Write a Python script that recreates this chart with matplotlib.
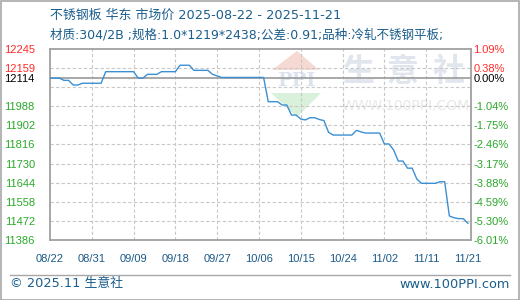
import matplotlib
matplotlib.use('Agg')
import matplotlib.pyplot as plt
from matplotlib.patches import Polygon, Rectangle
from matplotlib.lines import Line2D

plt.rcParams['font.family'] = ['DejaVu Sans', 'Noto Sans CJK SC']

# chart data (x = position of the day in the daily series, 08/22 = 0)
day_idx = [0, 2, 3, 4, 5, 6, 7, 11, 12, 18, 19, 20, 21, 23, 24, 27, 28, 30, 31, 34,
           35, 37, 46, 47, 49, 50, 51, 52, 53, 54, 55, 56, 57, 58, 59, 60, 61, 65,
           66, 67, 68, 71, 72, 73, 74, 75, 76, 77, 78, 79, 80, 83, 84, 85, 86, 87,
           88, 89, 90]
price = [12114, 12114, 12104, 12104, 12083, 12083, 12091, 12091, 12143, 12143,
         12114, 12114, 12131, 12131, 12143, 12143, 12172, 12172, 12149, 12149,
         12131, 12117, 12117, 12008, 12008, 11993, 11993, 11948, 11948, 11930,
         11926, 11936, 11936, 11928, 11923, 11870, 11858, 11858, 11879, 11872,
         11867, 11867, 11818, 11818, 11791, 11741, 11741, 11709, 11709, 11660,
         11641, 11641, 11648, 11648, 11494, 11486, 11482, 11482, 11461]

base_price = 12114
x_tick_pos = [0, 9, 18, 27, 36, 45, 54, 63, 72, 81, 90]
x_tick_labels = ['08/22', '08/31', '09/09', '09/18', '09/27', '10/06',
                 '10/15', '10/24', '11/02', '11/11', '11/21']
y_ticks = [12245, 12159, 12114, 11988, 11902, 11816, 11730, 11644, 11558, 11472, 11386]
y_grid = [12159, 12073, 11988, 11902, 11816, 11730, 11644, 11558, 11472]
pct_labels = ['1.09%', '0.38%', '0.00%', '-1.04%', '-1.75%', '-2.46%', '-3.17%',
              '-3.88%', '-4.59%', '-5.30%', '-6.01%']

title = '不锈钢板 华东 市场价 2025-08-22 - 2025-11-21'
subtitle = '材质:304/2B ;规格:1.0*1219*2438;公差:0.91;品种:冷轧不锈钢平板;'

W, H = 520, 300
fig = plt.figure(figsize=(W / 100, H / 100), dpi=100)

def px(x, y):
    return x / W, 1 - y / H

ax = fig.add_axes([50 / W, 60 / H, 420.7 / W, 191 / H])
ax.patch.set_visible(False)

# watermark
wm = dict(transform=fig.transFigure, zorder=-1)
fig.patches.append(Polygon([px(272, 70), px(297, 51), px(319, 70)], closed=True,
                           fc='#f7d9d3', ec='none', **wm))
fig.patches.append(Polygon([px(271, 93), px(321, 93), px(297, 117)], closed=True,
                           fc='#d9f0da', ec='none', **wm))
fig.text(*px(296, 81), 'PPI', color='#dce2ee', fontsize=14, family='DejaVu Serif',
         fontweight='bold', ha='center', va='center', **wm)
for ch, cx in zip('生意社', [358, 403, 449]):
    fig.text(*px(cx, 72), ch, color='#e0e5ee', fontsize=23, fontweight='bold',
             family='Noto Sans CJK SC', ha='center', va='center', **wm)
fig.text(*px(406, 106), 'WWW.100PPI.COM', color='#e8e8e8', fontsize=10,
         ha='center', va='center', **wm)

# grid
for g in y_grid:
    ax.axhline(g, color='#c8c8c8', lw=0.8, ls=(0, (3, 2)), zorder=1)
for t in x_tick_pos[1:-1]:
    ax.axvline(t, color='#c8c8c8', lw=0.8, ls=(0, (3, 2)), zorder=1)
ax.axhline(base_price, color='#9a9a9a', lw=1.2, zorder=2)

ax.plot(day_idx, price, color='#3b8fd3', lw=1.0, zorder=3)

tick_font = dict(family='Liberation Sans', fontsize=8)
ax.set_xlim(0, 90.6)
ax.set_ylim(11386, 12245)
ax.set_xticks(x_tick_pos)
ax.set_xticklabels(x_tick_labels, color='#1b5a88', **tick_font)
ax.set_yticks(y_ticks)
ax.set_yticklabels([str(v) for v in y_ticks], **tick_font)
ax.tick_params(length=0)
ax.tick_params(axis='x', pad=10)
ax.tick_params(axis='y', pad=11)
for s in ax.spines.values():
    s.set_color('#a0a0a0')
    s.set_linewidth(1.3)

ax2 = ax.twinx()
ax2.set_ylim(11386, 12245)
ax2.set_yticks(y_ticks)
ax2.set_yticklabels(pct_labels, **tick_font)
ax2.tick_params(length=0, pad=2)
for s in ax2.spines.values():
    s.set_visible(False)

def lab_color(v):
    if v > base_price:
        return '#ff2b2b'
    if v == base_price:
        return '#000000'
    return '#2aa82a'

for a in (ax, ax2):
    for v, lab in zip(y_ticks, a.get_yticklabels()):
        lab.set_color(lab_color(v))

# titles
fig.text(*px(50, 15), title, color='#1b5e8c', fontsize=9.3, va='center', ha='left')
fig.text(*px(50, 35), subtitle, color='#1b5e8c', fontsize=9.0, va='center', ha='left')

# footer
fig.lines.append(Line2D([10 / W, 510 / W], [1 - 275 / H] * 2, color='#a8a8a8', lw=1,
                        transform=fig.transFigure))
fig.text(*px(10, 284), '© 2025.11 生意社', color='#1b5e8c', fontsize=9.3,
         va='center', ha='left')
fig.text(*px(510, 284), 'www.100PPI.com', color='#1b5e8c', fontsize=9.3,
         va='center', ha='right')

# outer border
fig.patches.append(Rectangle((0.5 / W, 0.5 / H), 1 - 1.5 / W, 1 - 1.5 / H, fill=False,
                             ec='#a8a8a8', lw=1.2, transform=fig.transFigure))

fig.savefig('out.png', dpi=100)
